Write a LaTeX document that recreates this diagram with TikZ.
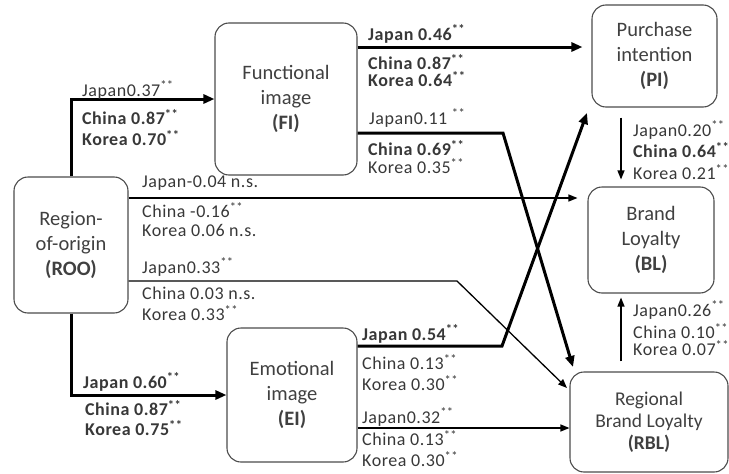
\documentclass[tikz,border=0pt]{standalone}
\usepackage{fontspec}
\setmainfont{Carlito}
\newfontfamily\labfont[LetterSpace=3]{Carlito}
\usetikzlibrary{arrows.meta}
\newcommand\sig{\textsuperscript{**}}
\begin{document}
\begin{tikzpicture}[x=1pt,y=-1pt,
  box/.style={draw=black!70, line width=1.1pt, rounded corners=14pt,
    align=center, text=black!75, inner sep=0pt,
    font=\fontsize{20.5}{25}\selectfont},
  lab/.style={anchor=west, inner sep=0pt, text=black!78,
    font=\labfont\fontsize{18}{20}\selectfont},
  blab/.style={lab, font=\labfont\fontsize{18}{20}\selectfont\bfseries},
  strong/.style={line width=3pt, -{Triangle[length=11pt,width=9pt]}},
  weak/.style={line width=1.3pt, -{Triangle[length=9pt,width=7pt]}},
]
\useasboundingbox (0,0) rectangle (729,474);

% constructs
\node[box, minimum width=114pt, minimum height=136pt] (roo) at (71,245)
  {Region-\\of-origin\\\textbf{(ROO)}};
\node[box, minimum width=142pt, minimum height=152pt] (fi) at (286,99)
  {Functional\\image\\\textbf{(FI)}};
\node[box, minimum width=130pt, minimum height=134pt] (ei) at (292,395)
  {Emotional\\image\\\textbf{(EI)}};
\node[box, minimum width=125pt, minimum height=102pt] (pi) at (654.5,56)
  {Purchase\\intention\\\textbf{(PI)}};
\node[box, minimum width=126pt, minimum height=106pt] (bl) at (651,240)
  {Brand\\Loyalty\\\textbf{(BL)}};
\node[box, minimum width=158pt, minimum height=100pt,
  font=\fontsize{19.5}{22}\selectfont] (rbl) at (649,422)
  {Regional\\Brand Loyalty\\\textbf{(RBL)}};

% levels and bends of the paths
\coordinate (y47) at (0,47);
\coordinate (y133) at (0,133);
\coordinate (y198) at (0,198);
\coordinate (y281) at (0,281);
\coordinate (y346) at (0,346);
\coordinate (y428) at (0,428);
\coordinate (x621) at (621,0);
\coordinate (b1) at (503,133);
\coordinate (t1) at (573,367);
\coordinate (b2) at (502,346);
\coordinate (t2) at (587,113);
\coordinate (b3) at (457,281);
\coordinate (t3) at (567,388);

% paths
\draw[strong] (roo.north) |- (fi.west);
\draw[strong] (roo.south) |- (ei.west);
\draw[strong, shorten >=9pt] (fi.east |- y47) -- (pi.west |- y47);
\draw[strong] (fi.east |- y133) -- (b1) -- (t1);
\draw[strong] (ei.east |- y346) -- (b2) -- (t2);
\draw[weak, shorten >=10pt] (roo.east |- y198) -- (bl.west |- y198);
\draw[weak] (roo.east |- y281) -- (b3) -- (t3);
\draw[weak] (ei.east |- y428) -- (rbl.west |- y428);
\draw[weak, shorten <=10pt, shorten >=7pt] (pi.south -| x621) -- (bl.north -| x621);
\draw[weak, shorten <=10pt, shorten >=4pt] (rbl.north -| x621) -- (bl.south -| x621);

% path coefficients
\node[lab]  (a1) at (82,90)  {Japan0.37\sig};
\node[blab] (a2) at (82,117) {China 0.87\sig};
\node[blab] (a3) at (82,138) {Korea 0.70\sig};

\node[lab] (c1) at (142,183) {Japan-0.04 n.s.};
\node[lab] (c2) at (142,210) {China -0.16\sig};
\node[lab] (c3) at (142,230) {Korea 0.06 n.s.};

\node[lab] (d1) at (142,267) {Japan0.33\sig};
\node[lab] (d2) at (142,293) {China 0.03 n.s.};
\node[lab] (d3) at (142,313) {Korea 0.33\sig};

\node[blab] (e1) at (83,382) {Japan 0.60\sig};
\node[blab] (e2) at (85,408) {China 0.87\sig};
\node[blab] (e3) at (85,428) {Korea 0.75\sig};

\node[blab] (f1) at (368,34) {Japan 0.46\sig};
\node[blab] (f2) at (368,62) {China 0.87\sig};
\node[blab] (f3) at (368,79) {Korea 0.64\sig};

\node[lab]  (g1) at (369,118) {Japan0.11 \sig};
\node[blab] (g2) at (368,148) {China 0.69\sig};
\node[lab]  (g3) at (368,166) {Korea 0.35\sig};

\node[blab] (h1) at (362,334) {Japan 0.54\sig};
\node[lab]  (h2) at (362,362) {China 0.13\sig};
\node[lab]  (h3) at (362,383) {Korea 0.30\sig};

\node[lab] (k1) at (362,417) {Japan0.32\sig};
\node[lab] (k2) at (362,438) {China 0.13\sig};
\node[lab] (k3) at (362,459) {Korea 0.30\sig};

\node[lab]  (m1) at (633,130) {Japan0.20\sig};
\node[blab] (m2) at (633,150) {China 0.64\sig};
\node[lab]  (m3) at (633,172) {Korea 0.21\sig};

\node[lab] (n1) at (633,310) {Japan0.26\sig};
\node[lab] (n2) at (633,331) {China 0.10\sig};
\node[lab] (n3) at (633,348) {Korea 0.07\sig};
\end{tikzpicture}
\end{document}
